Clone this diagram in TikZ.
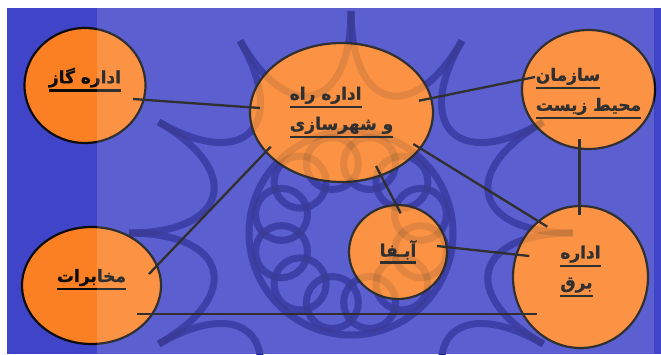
\documentclass[tikz,border=0pt]{standalone}
\usepackage{fontspec}
\usepackage{tikz}
\usetikzlibrary{shapes.geometric}
\newfontfamily\farsi[Script=Arabic,BoldFeatures={FakeBold=1.2}]{DejaVu Sans}
\TeXXeTstate=1
\definecolor{bgblue}{RGB}{63,68,200}
\definecolor{orng}{RGB}{251,128,36}
\definecolor{wmark}{RGB}{32,36,176}
\definecolor{rim}{RGB}{12,12,12}
\newcommand{\ul}[1]{\setbox0=\hbox{\beginR#1\endR}\vtop{\copy0\kern2pt\hrule height 2.3pt}}
\newcommand{\lift}{\rule[-20pt]{0pt}{0pt}}
\newcommand{\drop}{\rule{0pt}{21pt}}
\newcommand{\rosette}{%
  \foreach \a in {0,30,...,330}{
    \draw (\a:222) .. controls (\a:123) and ({\a+30}:123) .. ({\a+30}:222);
    \draw ({\a+15}:72) circle[radius=26pt];
  }
  \draw (0,0) circle[radius=102pt];}

\begin{document}
\begin{tikzpicture}[x=1pt,y=-1pt,
                    every edge/.style={draw=rim,line width=2.3pt}]
  \tikzstyle{office}=[ellipse,fill=orng,draw=rim,line width=2.2pt,
                      inner xsep=-25pt,inner ysep=0pt,align=left,text=rim,
                      font=\farsi\bfseries\fontsize{17}{30}\selectfont]

  \useasboundingbox (0,0) rectangle (661,354);
  \fill[bgblue] (7,8) rectangle (661,354);
  \begin{scope}
    \clip (7,8) rectangle (661,354);
    \begin{scope}[shift={(351,233)},color=wmark,line width=7pt]
      \rosette
    \end{scope}
  \end{scope}

  \node[office,minimum width=121pt,minimum height=115pt] (gaz)   at (85,85.5)    {\ul{اداره گاز}\lift};
  \node[office,minimum width=183pt,minimum height=139pt] (rah)   at (341.5,112.5) {\ul{اداره راه}\\\ul{و شهرسازی}};
  \node[office,minimum width=133pt,minimum height=119pt] (saz)   at (588.5,89.5)  {\drop\ul{سازمان}\\\ul{محیط زیست}};
  \node[office,minimum width=98pt,minimum height=94pt]   (abfa)  at (398,252)     {\ul{آبـفا}};
  \node[office,minimum width=135pt,minimum height=142pt] (bargh) at (580.5,277)   {\ul{اداره}\\\ul{برق}\lift};
  \node[office,minimum width=139pt,minimum height=117pt] (mokh)  at (91.5,285.5)  {\ul{مخابرات}\lift};

  \path ([shift={(48,13.5)}]gaz.center)    edge ([shift={(-81.5,-4.5)}]rah.center)
        ([shift={(77.5,-11.8)}]rah.center) edge ([shift={(-53.5,-12.5)}]saz.center)
        ([shift={(-70.8,34.2)}]rah.center) edge ([shift={(57.5,-11.5)}]mokh.center)
        ([shift={(34.5,53.5)}]rah.center)  edge ([shift={(2.7,-38.7)}]abfa.center)
        ([shift={(71.8,31.5)}]rah.center)  edge ([shift={(-33.2,-50.3)}]bargh.center)
        ([shift={(-9,49.5)}]saz.center)    edge ([shift={(-1,-62)}]bargh.center)
        ([shift={(39,-6)}]abfa.center)     edge ([shift={(-51.2,-21)}]bargh.center)
        ([shift={(45.8,28.5)}]mokh.center) edge ([shift={(-43.2,37)}]bargh.center);

  \begin{scope}
    \clip (7,8) rectangle (661,354);
    \begin{scope}[shift={(351,233)},color=black,opacity=.12,line width=7pt]
      \rosette
    \end{scope}
  \end{scope}
  \fill[white,opacity=.15] (97,8) rectangle (654,354);
\end{tikzpicture}
\end{document}
